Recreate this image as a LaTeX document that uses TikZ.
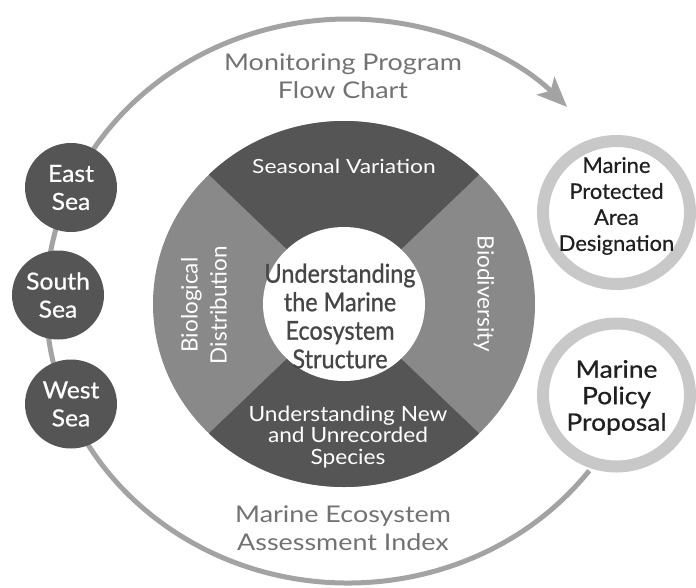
\documentclass[tikz,border=0pt]{standalone}
\usepackage{fontspec}
\setmainfont{Lato}
\newfontfamily\widefont[FakeStretch=1.17]{Lato}
\newfontfamily\segwidefont[FakeStretch=1.08]{Lato}
\newfontfamily\centerfont[FakeStretch=0.9,FakeBold=0.8]{Lato}
\newfontfamily\condfont[FakeStretch=1.02,FakeBold=0.5]{Lato}
\newfontfamily\medfont[FakeStretch=1.05,FakeBold=0.7]{Lato}
\newfontfamily\polfont[FakeStretch=1.1,FakeBold=0.7]{Lato}
\usetikzlibrary{shapes.geometric,arrows.meta}
\definecolor{darkseg}{HTML}{555555}
\definecolor{midseg}{HTML}{898989}
\definecolor{ringgray}{HTML}{C8C8C8}
\definecolor{arcgray}{HTML}{A3A3A3}
\definecolor{labelgray}{HTML}{727272}
\definecolor{centertext}{HTML}{464646}
\definecolor{boxtext}{HTML}{202020}
\begin{document}
\begin{tikzpicture}[x=1pt,y=-1pt,
  seacircle/.style={ellipse,fill=darkseg,draw=none,minimum width=92pt,minimum height=89pt,inner sep=0pt,
    text=white,align=center,font=\medfont\fontsize{23.5}{28}\selectfont},
  ringcircle/.style={ellipse,fill=white,draw=ringgray,line width=12pt,minimum width=147pt,minimum height=143pt,inner sep=0pt},
  segtext/.style={text=white,align=center,inner sep=0pt},
  outertext/.style={text=labelgray,align=center,inner sep=0pt,font=\widefont\fontsize{23}{27.5}\selectfont}]
\useasboundingbox (0,0) rectangle (696,587);

% outer flow arc
\coordinate (oc) at (348,301);
\draw[arcgray,line width=5pt,-{Stealth[length=30pt,width=25pt,inset=7pt]}]
  (oc) ++(37:302 and 282) arc[start angle=37,end angle=316.5,x radius=302,y radius=282];

% wheel
\coordinate (wc) at (344,304);
\fill[midseg] (wc) ellipse [x radius=191, y radius=183];
\fill[darkseg] (wc) -- ++(225:191 and 183) arc[start angle=225,end angle=315,x radius=191,y radius=183] -- cycle;
\fill[darkseg] (wc) -- ++(45:191 and 183) arc[start angle=45,end angle=135,x radius=191,y radius=183] -- cycle;
\node[ellipse,fill=white,minimum width=162pt,minimum height=154pt,inner sep=0pt] (core) at (wc) {};

% wheel texts
\node[segtext,font=\widefont\fontsize{19.5}{23}\selectfont] (seasonal) at (344,166) {Seasonal Variation};
\node[text=centertext,align=center,inner sep=0pt,font=\centerfont\fontsize{26}{28.5}\selectfont] (understand) at (340,316) {Understanding\\the Marine\\Ecosystem\\Structure};
\node[segtext,font=\segwidefont\fontsize{21}{21.5}\selectfont] (newspecies) at (348,437) {Understanding New\\and Unrecorded\\Species};
\node[segtext,rotate=90,font=\fontsize{22.5}{29}\selectfont] (biodist) at (204,305) {Biological\\Distribution};
\node[segtext,rotate=-90,font=\fontsize{22.5}{27}\selectfont] (biodiv) at (484,294) {Biodiversity};

% outer labels
\node[outertext] (monitor) at (343,76) {Monitoring Program\\Flow Chart};
\node[outertext] (assess) at (343,528) {Marine Ecosystem\\Assessment Index};

% seas
\node[seacircle] (east) at (71,187.5) {East\\Sea};
\node[seacircle] (south) at (58,295) {South\\Sea};
\node[seacircle] (west) at (71,404) {West\\Sea};

% right circles
\node[ringcircle] (mpa) at (616.5,212.5) {};
\node[text=boxtext,align=center,inner sep=0pt,font=\condfont\fontsize{21.5}{26}\selectfont] (mpatext) at (616.5,206) {Marine\\Protected\\Area\\Designation};
\node[ringcircle] (policy) at (616.5,395) {};
\node[text=boxtext,align=center,inner sep=0pt,font=\polfont\fontsize{24}{26.5}\selectfont] (policytext) at (616.5,397.5) {Marine\\Policy\\Proposal};
\end{tikzpicture}
\end{document}
